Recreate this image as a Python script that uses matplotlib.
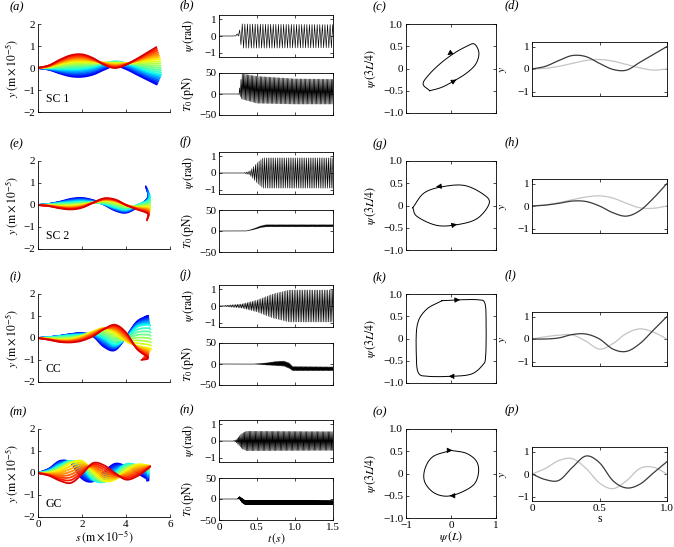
import numpy as np
import matplotlib
matplotlib.use('Agg')
import matplotlib.pyplot as plt

plt.rcParams['font.family'] = ['Liberation Serif', 'DejaVu Serif']
plt.rcParams['mathtext.fontset'] = 'stix'
plt.rcParams['font.size'] = 8

W, H = 674, 547

# ---------------- filament shapes (keyframes, blue -> red) ----------------
s_nodes = [0, 0.5, 1.0, 1.5, 2.0, 2.5, 3.0, 3.5, 4.0, 4.5, 5.0]

tip_a = [5.4, 5.6, 5.55, 5.38]
keys_a = [
    [0, -0.08, -0.25, -0.38, -0.4, -0.3, -0.08, 0.1, -0.05, -0.3, -0.55, -0.75],
    [0, -0.01, -0.04, -0.05, -0.03, 0.05, 0.2, 0.3, 0.22, 0.05, -0.15, -0.3],
    [0, 0.06, 0.18, 0.28, 0.3, 0.28, 0.25, 0.2, 0.22, 0.28, 0.35, 0.4],
    [0, 0.12, 0.38, 0.58, 0.62, 0.45, 0.15, 0.0, 0.15, 0.42, 0.72, 0.95],
]
tip_e = [4.9, 5.1, 5.1, 4.95]
keys_e = [
    [0, 0.05, 0.15, 0.28, 0.32, 0.22, 0.02, -0.25, -0.35, -0.1, 0.35, 0.85],
    [0, 0.03, 0.08, 0.12, 0.15, 0.12, 0.05, -0.1, -0.2, 0.0, 0.2, 0.4],
    [0, -0.02, -0.05, -0.05, 0.0, 0.1, 0.2, 0.15, 0.0, -0.1, -0.1, -0.2],
    [0, -0.05, -0.15, -0.2, -0.12, 0.1, 0.3, 0.25, 0.0, -0.2, -0.4, -0.7],
]
tip_i = [4.85, 5.1, 5.15, 4.7]
keys_i = [
    [0, 0.04, 0.1, 0.18, 0.22, 0.08, -0.4, -0.55, 0.05, 0.75, 1.0, 0.95],
    [0, 0.03, 0.08, 0.12, 0.15, 0.2, 0.0, -0.3, 0.0, 0.5, 0.6, 0.55],
    [0, -0.04, -0.08, -0.06, 0.08, 0.3, 0.45, 0.25, -0.15, -0.35, -0.45, -0.5],
    [0, -0.08, -0.18, -0.2, -0.12, 0.08, 0.4, 0.6, 0.25, -0.5, -0.9, -1.0],
]
tip_m = [4.95, 5.0, 5.05, 5.1]
keys_m = [
    [0, 0.2, 0.55, 0.45, -0.25, -0.38, 0.05, 0.42, 0.3, 0.0, -0.3, -0.35],
    [0, 0.1, 0.35, 0.55, 0.3, -0.3, -0.4, 0.0, 0.4, 0.35, 0.1, 0.0],
    [0, 0.0, 0.15, 0.45, 0.55, 0.1, -0.35, -0.3, 0.1, 0.38, 0.35, 0.3],
    [0, -0.12, -0.35, -0.45, -0.05, 0.45, 0.35, 0.0, -0.3, -0.15, 0.2, 0.3],
]
fan_names = ['SC 1', 'SC 2', 'CC', 'GC']

# ---------------- time series envelopes (t, upper, lower), half period ----------------
psi_env = [
    ([0, 0.2, 0.26, 0.3, 0.6, 1.5], [0, 0, 0.2, 0.72, 0.7, 0.68], [0, 0, 0, -0.72, -0.72, -0.7], 0.017),
    ([0, 0.32, 0.4, 0.5, 0.58, 1.5], [0, 0, 0.1, 0.6, 0.9, 0.9], [0, 0, -0.1, -0.6, -0.9, -0.9], 0.012),
    ([0, 0.05, 0.3, 0.5, 0.7, 0.92, 1.5], [0, 0.02, 0.12, 0.35, 0.7, 0.95, 0.95], [0, -0.02, -0.12, -0.35, -0.7, -0.95, -0.95], 0.011),
    ([0, 0.18, 0.22, 0.3, 0.36, 1.5], [0, 0, 0.05, 0.45, 0.58, 0.56], [0, 0, -0.05, -0.45, -0.58, -0.56], 0.008),
]
T0_env = [
    ([0, 0.26, 0.3, 0.5, 1.0, 1.5], [0, 0, 48, 42, 36, 35], [0, 0, -12, -22, -24, -24], 0.0085),
    ([0, 0.36, 0.45, 0.55, 0.62, 1.5], [0, 0, 5, 12, 15, 15], [0, 0, 3, 8, 10, 10], 0.006),
    ([0, 0.45, 0.6, 0.75, 0.85, 0.92, 0.97, 1.5], [0, 0, 2, 6, 7, 3, -6, -7], [0, 0, -2, -4, -5, -10, -16, -16], 0.0055),
    ([0, 0.24, 0.27, 0.3, 0.34, 1.5], [0, 0, 6, 2, -3, -4], [0, 0, 0, -8, -13, -13], 0.004),
]

# ---------------- phase loops psi(L) vs psi(3L/4) ----------------
loop_c_x = [-0.47, -0.2, 0.1, 0.35, 0.55, 0.62, 0.52, 0.35, 0.05, -0.25, -0.5, -0.62]
loop_c_y = [-0.5, -0.42, -0.26, -0.1, 0.1, 0.35, 0.55, 0.5, 0.33, 0.1, -0.15, -0.35]
arrows_c = [(0.05, -0.29, 0.12, -0.25), (0.0, 0.36, -0.08, 0.3)]

loop_g_x = [-0.85, -0.6, -0.2, 0.3, 0.72, 0.85, 0.6, 0.2, -0.3, -0.75]
loop_g_y = [-0.05, 0.28, 0.42, 0.45, 0.25, 0.05, -0.28, -0.42, -0.45, -0.25]
arrows_g = [(-0.25, 0.43, -0.33, 0.42), (0.05, -0.44, 0.13, -0.42)]

loop_k_x = [-0.2, 0.2, 0.6, 0.75, 0.78, 0.77, 0.7, 0.45, 0.0, -0.5, -0.72, -0.77, -0.75, -0.55]
loop_k_y = [0.85, 0.87, 0.87, 0.8, 0.4, -0.4, -0.6, -0.8, -0.85, -0.85, -0.78, -0.4, 0.3, 0.65]
arrows_k = [(0.1, 0.865, 0.2, 0.87), (0.05, -0.85, -0.05, -0.85)]

loop_o_x = [0.0, 0.35, 0.58, 0.6, 0.45, 0.0, -0.35, -0.58, -0.58, -0.4]
loop_o_y = [0.52, 0.45, 0.25, -0.05, -0.3, -0.5, -0.45, -0.2, 0.1, 0.38]
arrows_o = [(-0.05, 0.52, 0.03, 0.52), (0.05, -0.5, -0.03, -0.5)]
loops = [(loop_c_x, loop_c_y, arrows_c), (loop_g_x, loop_g_y, arrows_g),
         (loop_k_x, loop_k_y, arrows_k), (loop_o_x, loop_o_y, arrows_o)]

# ---------------- mode shapes y(s) ----------------
s_mode = [0, 0.1, 0.2, 0.3, 0.4, 0.5, 0.6, 0.7, 0.8, 0.9, 1.0]
dark_d = [0, 0.12, 0.38, 0.6, 0.55, 0.25, -0.02, -0.05, 0.3, 0.65, 1.0]
light_d = [0, 0.03, 0.12, 0.25, 0.38, 0.42, 0.35, 0.2, 0.05, -0.05, 0.0]
dark_h = [0, 0.04, 0.12, 0.22, 0.2, 0.0, -0.3, -0.45, -0.2, 0.35, 1.0]
light_h = [0, 0.05, 0.15, 0.28, 0.4, 0.45, 0.35, 0.12, -0.08, -0.1, 0.0]
dark_l = [0, 0.0, 0.05, 0.2, 0.22, 0.0, -0.45, -0.55, -0.2, 0.4, 1.0]
light_l = [0, 0.1, 0.17, 0.18, -0.1, -0.45, -0.2, 0.25, 0.45, 0.3, 0.0]
dark_p = [0, -0.25, -0.28, 0.3, 0.8, 0.5, -0.3, -0.62, -0.45, 0.05, 0.55]
light_p = [0, 0.25, 0.6, 0.68, 0.25, -0.4, -0.65, -0.3, 0.25, 0.3, 0.0]
modes = [(dark_d, light_d), (dark_h, light_h), (dark_l, light_l), (dark_p, light_p)]


def smooth(x, y, n=10):
    # Catmull-Rom through the read-off points
    P = np.column_stack([np.asarray(x, float), np.asarray(y, float)])
    P = np.vstack([2 * P[0] - P[1], P, 2 * P[-1] - P[-2]])
    t = np.linspace(0, 1, n, endpoint=False)[:, None]
    out = []
    for i in range(1, len(P) - 2):
        p0, p1, p2, p3 = P[i - 1], P[i], P[i + 1], P[i + 2]
        out.append(0.5 * (2 * p1 + (-p0 + p2) * t + (2 * p0 - 5 * p1 + 4 * p2 - p3) * t ** 2
                          + (-p0 + 3 * p1 - 3 * p2 + p3) * t ** 3))
    out.append(P[-2][None])
    out = np.vstack(out)
    return out[:, 0], out[:, 1]


def zigzag(env):
    et, hi, lo, half = env
    t = np.arange(0, 1.5 + half, half)
    up = np.interp(t, et, hi)
    dn = np.interp(t, et, lo)
    return t, np.where(np.arange(len(t)) % 2 == 0, up, dn)


def add_ax(x0, y0, x1, y1, box=True):
    ax = fig.add_axes([x0 / W, 1 - y1 / H, (x1 - x0) / W, (y1 - y0) / H])
    ax.tick_params(direction='in', top=box, right=box, length=2.5, width=0.5, labelsize=8, pad=2)
    for sp in ax.spines.values():
        sp.set_linewidth(0.6)
    if not box:
        ax.spines['top'].set_visible(False)
        ax.spines['right'].set_visible(False)
    return ax


fig = plt.figure(figsize=(W / 100, H / 100), dpi=100)

tops = [24, 161, 294, 429]
letters = ['abcd', 'efgh', 'ijkl', 'mnop']
fans = [(keys_a, tip_a), (keys_e, tip_e), (keys_i, tip_i), (keys_m, tip_m)]
jet = plt.get_cmap('jet')

for r, top in enumerate(tops):
    last = r == 3

    # column 1: filament shapes
    ax = add_ax(38, top, 170, top + 88, box=False)
    keys, tips = fans[r]
    curves = []
    nb = 7
    for k in range(len(keys) - 1):
        xa = np.array(s_nodes + [tips[k]])
        xb = np.array(s_nodes + [tips[k + 1]])
        ya, yb = np.array(keys[k]), np.array(keys[k + 1])
        for f in np.linspace(0, 1, nb, endpoint=False):
            curves.append(((1 - f) * xa + f * xb, (1 - f) * ya + f * yb))
    curves.append((np.array(s_nodes + [tips[-1]]), np.array(keys[-1])))
    cols = jet(np.linspace(0.1, 0.92, len(curves)))
    for (cx, cy), c in zip(curves, cols):
        sx, sy = smooth(cx, cy)
        ax.plot(sx, sy, color=c, lw=1.3, solid_capstyle='round')
    ax.set_xlim(0, 6)
    ax.set_ylim(-2, 2)
    ax.set_xticks([0, 2, 4, 6])
    ax.set_yticks([-2, -1, 0, 1, 2])
    ax.set_yticklabels(['\u22122', '\u22121', '0', '1', '2'])
    ax.text(0.35, -1.55, fan_names[r], fontsize=8.5)
    ax.set_ylabel(r'$y\;(\mathrm{m}\times 10^{-5})$', fontsize=8.5)
    ax.yaxis.set_label_coords(-0.14, 0.5)
    if last:
        ax.set_xlabel(r'$s\;(\mathrm{m}\times 10^{-5})$', fontsize=8.5, labelpad=0)
    else:
        ax.set_xticklabels([])

    # column 2: psi and T0 time series
    ax1 = add_ax(219, top - 9, 333, top + 33)
    t, v = zigzag(psi_env[r])
    ax1.plot(t, v, color='k', lw=0.45)
    ax1.set_xlim(0, 1.5)
    ax1.set_ylim(-1.25, 1.25)
    ax1.set_xticks([0, 0.5, 1.0, 1.5])
    ax1.set_xticklabels([])
    ax1.set_yticks([-1, 0, 1])
    ax1.set_yticklabels(['\u22121', '0', '1'])
    ax1.set_ylabel(r'$\psi\,(\mathrm{rad})$', fontsize=8.5)
    ax1.yaxis.set_label_coords(-0.2, 0.5)

    ax2 = add_ax(219, top + 49, 333, top + 91)
    t, v = zigzag(T0_env[r])
    ax2.plot(t, v, color='k', lw=0.45)
    ax2.set_xlim(0, 1.5)
    ax2.set_ylim(-50, 50)
    ax2.set_xticks([0, 0.5, 1.0, 1.5])
    ax2.set_yticks([-50, 0, 50])
    ax2.set_yticklabels(['\u221250', '0', '50'])
    ax2.set_ylabel(r'$T_0\,(\mathrm{pN})$', fontsize=8.5)
    ax2.yaxis.set_label_coords(-0.2, 0.5)
    if last:
        ax2.set_xticklabels(['0', '0.5', '1.0', '1.5'])
        ax2.set_xlabel(r'$t\,(s)$', fontsize=8.5, labelpad=0)
    else:
        ax2.set_xticklabels([])

    # column 3: phase loops
    ax = add_ax(406, top, 496, top + 89)
    lx, ly, arr = loops[r]
    sx, sy = smooth(list(lx) + [lx[0]], list(ly) + [ly[0]])
    ax.plot(sx, sy, color='k', lw=0.7)
    for x0, y0, x1, y1 in arr:
        ax.annotate('', xy=(x1, y1), xytext=(x0, y0),
                    arrowprops=dict(arrowstyle='-|>', color='k', lw=0.5, mutation_scale=8))
    ax.set_xlim(-1, 1)
    ax.set_ylim(-1, 1)
    ax.set_xticks([-1, 0, 1])
    ax.set_yticks([-1, -0.5, 0, 0.5, 1])
    ax.set_yticklabels(['\u22121.0', '\u22120.5', '0', '0.5', '1.0'])
    ax.set_ylabel(r'$\psi\,(3L/4)$', fontsize=8.5)
    ax.yaxis.set_label_coords(-0.31, 0.5)
    if last:
        ax.set_xticklabels(['\u22121', '0', '1'])
        ax.set_xlabel(r'$\psi\,(L)$', fontsize=8.5, labelpad=0)
    else:
        ax.set_xticklabels([])

    # column 4: mode shapes
    ax = add_ax(532, top + 18, 667, top + 72)
    dk, lt = modes[r]
    sx, sy = smooth(s_mode, lt)
    ax.plot(sx, sy, color='#c4c4c4', lw=0.9)
    sx, sy = smooth(s_mode, dk)
    ax.plot(sx, sy, color='#3a3a3a', lw=0.9)
    ax.set_xlim(0, 1)
    ax.set_ylim(-1.2, 1.2)
    ax.set_xticks([0, 0.5, 1.0])
    ax.set_yticks([-1, 0, 1])
    ax.set_yticklabels(['\u22121', '0', '1'])
    ax.set_ylabel(r'$y$', fontsize=8.5)
    ax.yaxis.set_label_coords(-0.17, 0.5)
    if last:
        ax.set_xticklabels(['0', '0.5', '1.0'])
        ax.set_xlabel('s', fontsize=8.5, labelpad=0)
    else:
        ax.set_xticklabels([])

    # panel letters
    for lx0, ch, dy in zip([10, 180, 373, 505], letters[r], [17, 19, 17, 19]):
        fig.text(lx0 / W, 1 - (top - dy) / H, '(' + ch + ')', style='italic',
                 fontsize=9, va='center', ha='left')

fig.savefig('out.png', dpi=100)
